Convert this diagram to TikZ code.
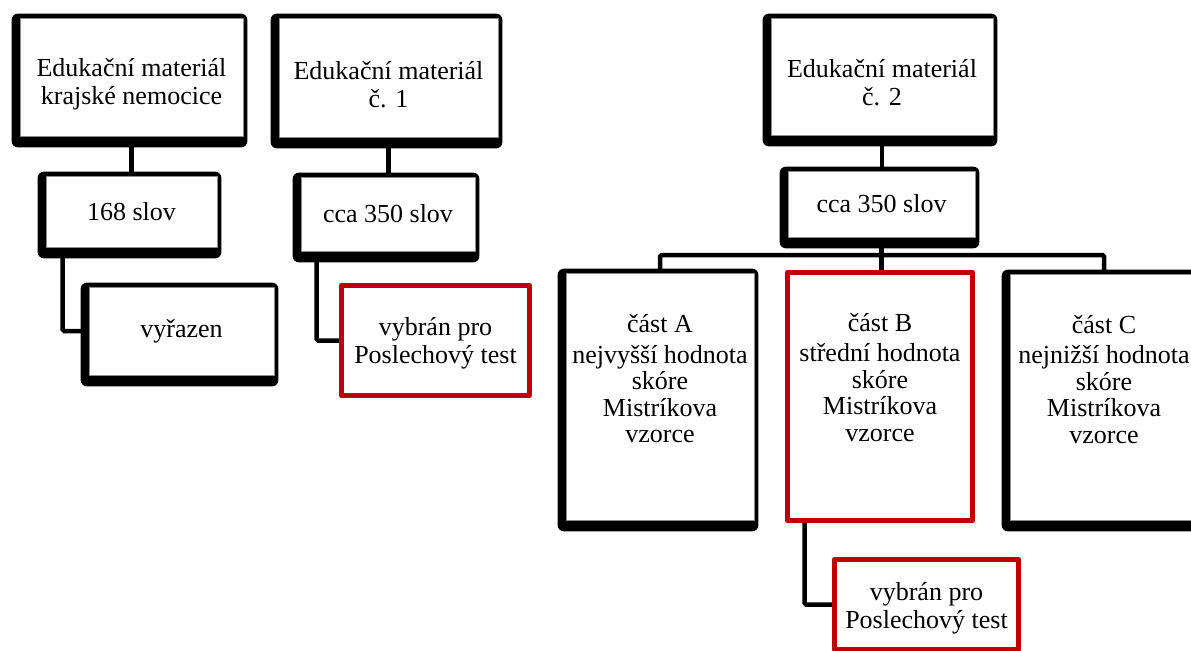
\documentclass[tikz,border=0pt]{standalone}
\usepackage{fontspec}
\setmainfont{Liberation Serif}
\usepackage{tikz}
\definecolor{boxred}{RGB}{192,0,0}
\pgfdeclarelayer{background}
\pgfsetlayers{background,main}

\begin{document}
\begin{tikzpicture}[x=1bp,y=-1bp,line join=round,
  font={\fontsize{26bp}{28bp}\selectfont},
  blackbox/.style={draw=black!45,fill=white,line width=0.6bp,align=center,inner sep=0pt},
  backing/.style={fill=black,rounded corners=6bp},
  redbox/.style={draw=boxred,fill=white,line width=5bp,align=center,inner sep=0pt},
  boxtext/.style={align=center,inner sep=0pt},
  parttext/.style={align=center,anchor=north,inner sep=0pt,
    font={\fontsize{26bp}{26.5bp}\selectfont}},
  link/.style={draw=black,line width=4.5bp,rounded corners=1.5bp}]
\useasboundingbox (0,0) rectangle (1191,651);
%%
  % Node: Edukacni material krajske nemocnice
  \node[blackbox,minimum width=223bp,minimum height=118bp] (edu1) at (131.5,77) {};
  \node[boxtext,yshift=-7bp] (edu1text) at (edu1) {Edukační materiál\\krajské nemocice};
  % Node: 168 slov
  \node[blackbox,minimum width=171bp,minimum height=71bp] (slov168) at (131.5,211.5)
    {168 slov};
  % Node: vyrazen
  \node[blackbox,minimum width=185bp,minimum height=88bp] (vyrazen) at (181.5,331)
    {vyřazen};
  % Node: Edukacni material c. 1
  \node[blackbox,minimum width=219bp,minimum height=119bp] (edu2) at (388.5,77.5) {};
  \node[boxtext,yshift=-7bp] (edu2text) at (edu2) {Edukační materiál\\č. 1};
  % Node: cca 350 slov (1)
  \node[blackbox,minimum width=174bp,minimum height=74bp] (cca1) at (388,214)
    {cca 350 slov};
  % Node: vybran (1)
  \node[redbox,minimum width=188bp,minimum height=110bp] (vybran1) at (435.5,340.5) {};
  \node[boxtext,yshift=-3bp] (vybran1text) at (vybran1) {vybrán pro\\Poslechový test};
  % Node: Edukacni material c. 2
  \node[blackbox,minimum width=222bp,minimum height=117bp] (edu3) at (882,76.5) {};
  \node[boxtext,yshift=-6bp] (edu3text) at (edu3) {Edukační materiál\\č. 2};
  % Node: cca 350 slov (2)
  \node[blackbox,minimum width=187bp,minimum height=66bp] (cca2) at (881.5,204)
    {cca 350 slov};
  % Node: cast A
  \node[blackbox,minimum width=188bp,minimum height=247bp] (partA) at (660,396.5) {};
  \node[parttext,yshift=-42bp] (partAtext) at (partA.north)
    {část A\\[4bp]nejvyšší hodnota\\skóre\\Mistríkova\\vzorce};
  % Node: cast B
  \node[redbox,minimum width=185bp,minimum height=248bp] (partB) at (880,396.5) {};
  \node[parttext,yshift=-43bp] (partBtext) at (partB.north)
    {část B\\[4bp]střední hodnota\\skóre\\Mistríkova\\vzorce};
  % Node: cast C
  \node[blackbox,minimum width=188bp,minimum height=246bp] (partC) at (1104,397) {};
  \node[parttext,yshift=-41.5bp] (partCtext) at (partC.north)
    {část C\\[4bp]nejnižší hodnota\\skóre\\Mistríkova\\vzorce};
  % Node: vybran (2)
  \node[redbox,minimum width=184bp,minimum height=90bp] (vybran2) at (926.5,604.5) {};
  \node[boxtext,yshift=-4bp] (vybran2text) at (vybran2) {vybrán pro\\Poslechový test};
%%
\begin{pgfonlayer}{background}
  % Edge: edu1 -> 168 slov -> vyrazen
  \draw[link] (edu1.south) -- (edu1.south |- slov168.north);
  \draw[link] ([xshift=17bp]slov168.south west) |- (vyrazen.west);
  % Edge: edu2 -> cca 350 slov -> vybran
  \draw[link] (edu2.south) -- (edu2.south |- cca1.north);
  \draw[link] ([xshift=16bp]cca1.south west) |- (vybran1.west);
  % Edge: edu3 -> cca 350 slov -> parts
  \draw[link] (edu3.south) -- (edu3.south |- cca2.north);
  \coordinate (split) at (880,255);
  \draw[link] (cca2.south) -- (cca2.south |- partB.north);
  \draw[link] (partA.north) |- (split) -| (partC.north);
  % Edge: cast B -> vybran
  \draw[link] ([xshift=19.5bp]partB.south west) |- (vybran2.west);
  % thick black frames behind the black boxes
  \foreach \boxname in {edu1,slov168,vyrazen,edu2,cca1,edu3,cca2,partA,partC}
    \fill[backing] ([shift={(-8bp,4bp)}]\boxname.north west)
      rectangle ([shift={(4bp,-11bp)}]\boxname.south east);
\end{pgfonlayer}
%
\end{tikzpicture}
\end{document}
